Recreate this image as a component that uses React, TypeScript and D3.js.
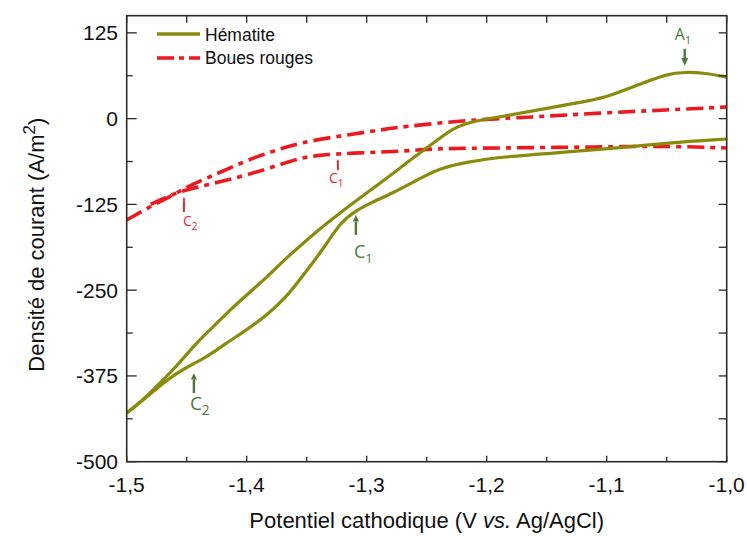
import React from "react";
import * as d3 from "d3";

const W = 747;
const H = 536;

// Axis domains and ticks
const xDomain: [number, number] = [-1.5, -1.0];
const yDomain: [number, number] = [-500, 150];
const xMajorTicks = [-1.5, -1.4, -1.3, -1.2, -1.1, -1.0];
const xMinorTicks = [-1.45, -1.35, -1.25, -1.15, -1.05];
const yMajorTicks = [125, 0, -125, -250, -375, -500];
const yMinorTicks = [62.5, -62.5, -187.5, -312.5, -437.5];

// Hématite – upper branch (with A1 peak)
const hemUpperV = [
  -1.5, -1.489, -1.472, -1.456, -1.442, -1.428, -1.414, -1.4, -1.383, -1.367,
  -1.35, -1.333, -1.317, -1.3, -1.283, -1.267, -1.25, -1.241, -1.228, -1.211,
  -1.189, -1.15, -1.111, -1.1, -1.072, -1.05, -1.035, -1.018, -1.0,
];
const hemUpperJ = [
  -429, -414.4, -385.2, -356.1, -327, -303.7, -278.9, -257, -230.8, -203.1,
  -176.9, -152.1, -130.2, -108.3, -86.5, -64.7, -42.8, -31.1, -13.7, -3.5,
  2.4, 15, 27.2, 31.5, 50.5, 65, 68, 66.5, 60.7,
];
// Hématite – lower branch (with C1 and C2 waves)
const hemLowerV = [
  -1.5, -1.483, -1.467, -1.45, -1.433, -1.417, -1.4, -1.383, -1.367, -1.356,
  -1.345, -1.333, -1.322, -1.311, -1.297, -1.278, -1.261, -1.239, -1.216,
  -1.189, -1.133, -1.091, -1.05, -1.0,
];
const hemLowerJ = [
  -429, -405.7, -380.9, -362, -347.4, -327, -308, -286.2, -260, -235.2,
  -210.4, -181.3, -152.1, -136, -123, -108.3, -92.3, -71.9, -63.2,
  -55.9, -48.6, -42.8, -35.5, -29.7,
];

// Boues rouges – upper branch
const bouesUpperV = [
  -1.5, -1.478, -1.461, -1.45, -1.433, -1.414, -1.395, -1.375, -1.356, -1.328,
  -1.289, -1.272, -1.216, -1.161, -1.106, -1.05, -1.0,
];
const bouesUpperJ = [
  -147.7, -125.8, -111.2, -99.6, -86.5, -71.9, -57.4, -45.7, -35.5, -26.8,
  -16.6, -12.2, -2, 2.4, 8.2, 12.6, 16.9,
];
// Boues rouges – lower branch
const bouesLowerV = [
  -1.48, -1.461, -1.441, -1.422, -1.4, -1.378, -1.356, -1.339, -1.311, -1.283,
  -1.256, -1.239, -1.189, -1.106, -1.05, -1.0,
];
const bouesLowerJ = [
  -125, -109, -99.6, -92.3, -82.1, -70.5, -57.4, -53, -50.1, -48.6,
  -45.7, -43.5, -42.8, -41.3, -39.9, -42.8,
];

const seriesNames = ["Hématite", "Boues rouges"];

// Peak annotations (anchor = arrow tip in data units)
const annotations = [
  { main: "A", sub: "1", v: -1.035, j: 77, dir: "down", color: "#4a7a3a", size: 16, len: 17, dx: -10, dy: -26, head: 7 },
  { main: "C", sub: "1", v: -1.309, j: -140.4, dir: "up", color: "#4a7a3a", size: 18, len: 20, dx: -2, dy: 43, head: 6 },
  { main: "C", sub: "2", v: -1.444, j: -370.7, dir: "up", color: "#4a7a3a", size: 19, len: 20, dx: -4, dy: 37, head: 6 },
  { main: "C", sub: "1", v: -1.324, j: -58.8, dir: "up", color: "#e0282c", size: 14, len: 11, dx: -9, dy: 24, head: 3 },
  { main: "C", sub: "2", v: -1.4523, j: -114.2, dir: "up", color: "#e0282c", size: 14, len: 15, dx: -1, dy: 29, head: 3 },
];

const OLIVE = "#8a8a0c";
const RED = "#ea1a1f";
const AXIS = "#2a2a2a";
const FONT = "'Liberation Sans', Arial, Helvetica, sans-serif";
const ANNOT_FONT = "'Liberation Sans Narrow', 'Open Sans', sans-serif";

const locale = d3.formatLocale({
  decimal: ",",
  thousands: ".",
  grouping: [3],
  currency: ["", ""],
  minus: "-",
});
const fmtX = locale.format(".1f");
const fmtY = locale.format("d");

export default function App() {
  const left = 126.7, right = 726.7, top = 15.7, bottom = 461.7;
  const x = d3.scaleLinear().domain(xDomain).range([left, right]);
  const y = d3.scaleLinear().domain(yDomain).range([bottom, top]);

  const mk = (vs: number[], js: number[]) =>
    d3
      .line<[number, number]>()
      .x((d) => x(d[0]))
      .y((d) => y(d[1]))
      .curve(d3.curveBasis)(vs.map((v, i) => [v, js[i]] as [number, number])) || "";

  const redDash = "17,6,5,6";

  return (
    <svg
      width={W}
      height={H}
      style={{ position: "absolute", left: 0, top: 0, background: "#fff" }}
      fontFamily={FONT}
    >
      <defs>
        <clipPath id="plotclip">
          <rect x={left} y={top} width={right - left} height={bottom - top} />
        </clipPath>
      </defs>

      {/* data */}
      <g clipPath="url(#plotclip)" fill="none" strokeLinejoin="round">
        <path d={mk(bouesUpperV, bouesUpperJ)} stroke={RED} strokeWidth={3.6} strokeDasharray={redDash} />
        <path d={mk(bouesLowerV, bouesLowerJ)} stroke={RED} strokeWidth={3.6} strokeDasharray={redDash} />
        <path d={mk(hemUpperV, hemUpperJ)} stroke={OLIVE} strokeWidth={3.2} />
        <path d={mk(hemLowerV, hemLowerJ)} stroke={OLIVE} strokeWidth={3.2} />
      </g>

      {/* frame */}
      <rect x={left} y={top} width={right - left} height={bottom - top} fill="none" stroke={AXIS} strokeWidth={1.6} />

      {/* ticks and labels */}
      {xMajorTicks.map((t) => (
        <g key={"xb" + t}>
          <line x1={x(t)} x2={x(t)} y1={bottom} y2={bottom - 6} stroke={AXIS} strokeWidth={1.3} />
          <line x1={x(t)} x2={x(t)} y1={top} y2={top + 7} stroke={AXIS} strokeWidth={1.3} />
          <text x={x(t)} y={492} textAnchor="middle" fontSize={21} fill="#111">
            {fmtX(t)}
          </text>
        </g>
      ))}
      {xMinorTicks.map((t) => (
        <g key={"xm" + t}>
          <line x1={x(t)} x2={x(t)} y1={bottom} y2={bottom - 5} stroke={AXIS} strokeWidth={1.3} />
          <line x1={x(t)} x2={x(t)} y1={top} y2={top + 7} stroke={AXIS} strokeWidth={1.3} />
        </g>
      ))}
      {yMajorTicks.map((t) => (
        <g key={"yb" + t}>
          <line x1={left} x2={left + 10} y1={y(t)} y2={y(t)} stroke={AXIS} strokeWidth={1.3} />
          <line x1={right} x2={right - 8} y1={y(t)} y2={y(t)} stroke={AXIS} strokeWidth={1.3} />
          <text x={118} y={y(t) + 7.5} textAnchor="end" fontSize={21} fill="#111">
            {fmtY(t)}
          </text>
        </g>
      ))}
      {yMinorTicks.map((t) => (
        <g key={"ym" + t}>
          <line x1={left} x2={left + 6} y1={y(t)} y2={y(t)} stroke={AXIS} strokeWidth={1.3} />
          <line x1={right} x2={right - 8} y1={y(t)} y2={y(t)} stroke={AXIS} strokeWidth={1.3} />
        </g>
      ))}

      {/* axis titles */}
      <text x={(left + right) / 2} y={528} textAnchor="middle" fontSize={22} fill="#111">
        Potentiel cathodique (V <tspan fontStyle="italic">vs.</tspan> Ag/AgCl)
      </text>
      <text transform={`translate(44,${(top + bottom) / 2 + 6}) rotate(-90)`} textAnchor="middle" fontSize={22} fill="#111">
        Densité de courant  (A/m<tspan dy={-9} fontSize={17}>2</tspan><tspan dy={9}>)</tspan>
      </text>

      {/* legend */}
      <line x1={157} x2={200} y1={34} y2={34} stroke={OLIVE} strokeWidth={3.4} />
      <text x={205} y={40.5} fontSize={17.5} fill="#111">{seriesNames[0]}</text>
      <line x1={157} x2={200} y1={58} y2={58} stroke={RED} strokeWidth={3.6} strokeDasharray="17,5,5,5" />
      <text x={205} y={64} fontSize={17.5} fill="#111">{seriesNames[1]}</text>

      {/* annotations */}
      {annotations.map((a, i) => {
        const ax = x(a.v);
        const ay = y(a.j);
        const tail = a.dir === "down" ? ay - a.len : ay + a.len;
        const sgn = a.dir === "down" ? 1 : -1;
        const headBase = ay - sgn * a.head * 1.1;
        return (
          <g key={"an" + i}>
            <line x1={ax} x2={ax} y1={tail} y2={headBase} stroke={a.color} strokeWidth={a.head > 4 ? 2.4 : 2} />
            <path
              d={`M${ax - a.head / 2},${headBase} L${ax + a.head / 2},${headBase} L${ax},${ay} Z`}
              fill={a.color}
            />
            <text x={ax + a.dx} y={ay + a.dy} fontSize={a.size} fill={a.color} fontFamily={ANNOT_FONT}>
              {a.main}
              <tspan fontSize={a.size * 0.72} dy={a.size * 0.28}>{a.sub}</tspan>
            </text>
          </g>
        );
      })}
    </svg>
  );
}
